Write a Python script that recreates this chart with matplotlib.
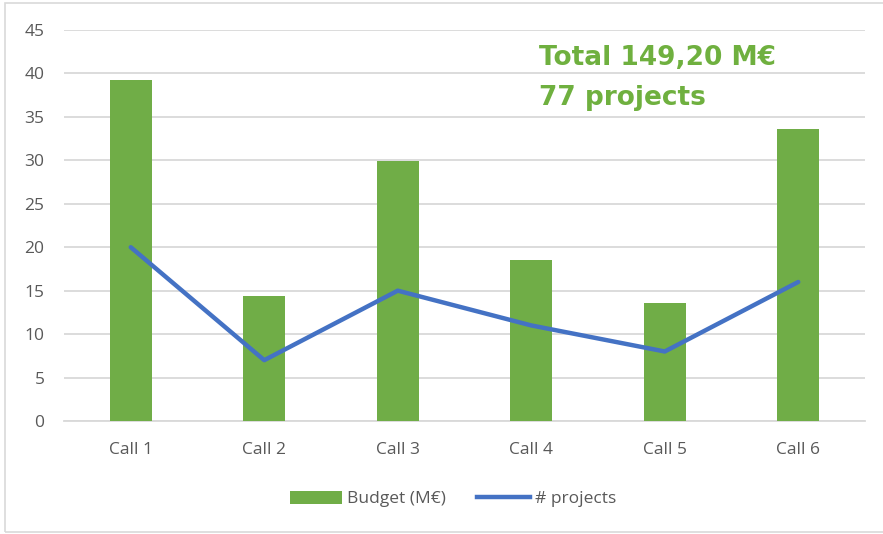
import matplotlib
matplotlib.use("Agg")
import matplotlib.pyplot as plt
from matplotlib.patches import Rectangle
from matplotlib.lines import Line2D
from matplotlib.patches import Patch

categories = ["Call 1", "Call 2", "Call 3", "Call 4", "Call 5", "Call 6"]
budget = [39.2, 14.4, 29.9, 18.5, 13.6, 33.6]
projects = [20, 7, 15, 11, 8, 16]
yticks = [0, 5, 10, 15, 20, 25, 30, 35, 40, 45]

W, H = 883, 534
fig = plt.figure(figsize=(W / 100, H / 100), dpi=100)
fig.patch.set_facecolor("white")
ax = fig.add_axes([64 / W, 1 - 421 / H, (865 - 64) / W, (421 - 30) / H])

x = list(range(len(categories)))
ax.bar(x, budget, width=0.315, color="#70AD47", zorder=3)
ax.plot(x, projects, color="#4472C4", linewidth=3.2, zorder=4, solid_capstyle="round")

ax.set_xlim(-0.5, len(categories) - 0.5)
ax.set_ylim(0, 45)
ax.set_yticks(yticks)
ax.set_xticks(x)
ax.set_xticklabels(categories)
ax.grid(axis="y", color="#D9D9D9", linewidth=1.3, zorder=0)
for s in ["top", "right", "left"]:
    ax.spines[s].set_visible(False)
ax.spines["bottom"].set_color("#D9D9D9")
ax.spines["bottom"].set_linewidth(1.3)
ax.tick_params(axis="both", length=0, labelsize=12.5, labelcolor="#595959")
ax.tick_params(axis="y", pad=14)
ax.tick_params(axis="x", pad=15)
for lab in ax.get_xticklabels() + ax.get_yticklabels():
    lab.set_fontfamily("Open Sans")

fig.text(539 / W, 1 - 58 / H, "Total 149,20 M€", color="#6FB03F", fontsize=19,
         fontweight="bold", family=["DejaVu Sans"], va="center", ha="left")
fig.text(539 / W, 1 - 98 / H, "77 projects", color="#6FB03F", fontsize=19,
         fontweight="bold", family=["DejaVu Sans"], va="center", ha="left")

handles = [Patch(facecolor="#70AD47", label="Budget (M€)"),
           Line2D([0], [0], color="#4472C4", linewidth=3.2, label="# projects")]
leg = fig.legend(handles=handles, loc="center", bbox_to_anchor=(453 / W, 1 - 499 / H),
                 ncol=2, frameon=False, handlelength=3.0, handleheight=0.8,
                 handletextpad=0.3, columnspacing=1.8,
                 prop={"family": ["Open Sans", "DejaVu Sans"], "size": 12.5})
for t in leg.get_texts():
    t.set_color("#595959")

fig.add_artist(Rectangle((5 / W, 1 - 532 / H), (W + 10) / W, (529) / H,
                         transform=fig.transFigure, fill=False,
                         edgecolor="#D9D9D9", linewidth=1.2))

fig.savefig("out.png", dpi=100)
